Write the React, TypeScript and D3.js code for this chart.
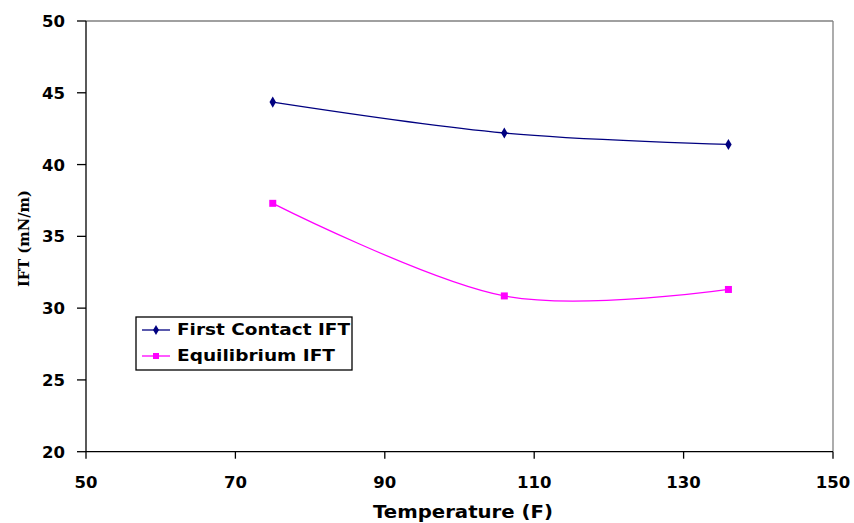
import React from "react";
import * as d3 from "d3";

const temperatures = [75, 106, 136];
const firstContact = [44.35, 42.2, 41.4];
const equilibrium = [37.3, 30.85, 31.3];
const xTicks = [50, 70, 90, 110, 130, 150];
const yTicks = [20, 25, 30, 35, 40, 45, 50];
const seriesNames = ["First Contact IFT", "Equilibrium IFT"];

const W = 854;
const H = 523;
const left = 86, right = 833, top = 21, bottom = 451.7;

export default function App() {
  const x = d3.scaleLinear().domain([50, 150]).range([left, right]);
  const y = d3.scaleLinear().domain([20, 50]).range([bottom, top]);
  const line = d3
    .line<number>()
    .x((_, i) => x(temperatures[i]))
    .y((d) => y(d))
    .curve(d3.curveCatmullRom.alpha(0));
  const font = "DejaVu Sans, Verdana, sans-serif";
  return (
    <svg width={W} height={H} style={{ position: "absolute", left: 0, top: 0 }}>
      <rect width={W} height={H} fill="#fff" />
      {/* plot border */}
      <line x1={left} x2={right} y1={top} y2={top} stroke="#808080" strokeWidth={1.3} />
      <line x1={right} x2={right} y1={top} y2={bottom} stroke="#808080" strokeWidth={1.3} />
      <line x1={left} x2={left} y1={top} y2={bottom} stroke="#000" strokeWidth={1.3} />
      <line x1={left} x2={right} y1={bottom} y2={bottom} stroke="#000" strokeWidth={1.3} />
      {yTicks.map((t) => (
        <g key={"y" + t}>
          <line x1={left - 9} x2={left} y1={y(t)} y2={y(t)} stroke="#000" strokeWidth={1.3} />
          <text x={65} y={y(t)} dy="0.36em" textAnchor="end" fontFamily={font} fontWeight="bold" fontSize={16.5}>
            {t}
          </text>
        </g>
      ))}
      {xTicks.map((t) => (
        <g key={"x" + t}>
          <line x1={x(t)} x2={x(t)} y1={bottom} y2={bottom + 7} stroke="#000" strokeWidth={1.3} />
          <text x={x(t)} y={488} textAnchor="middle" fontFamily={font} fontWeight="bold" fontSize={16.5}>
            {t}
          </text>
        </g>
      ))}
      <text
        x={373}
        y={518}
        fontFamily={font}
        fontWeight="bold"
        fontSize={17}
        textLength={180}
        lengthAdjust="spacingAndGlyphs"
      >
        Temperature (F)
      </text>
      <text
        transform={`translate(29,238.5) rotate(-90)`}
        textAnchor="middle"
        fontFamily="DejaVu Serif, serif"
        fontWeight="bold"
        fontSize={14}
        textLength={97}
        lengthAdjust="spacingAndGlyphs"
      >
        IFT (mN/m)
      </text>
      {/* series */}
      <path d={line(firstContact) || ""} fill="none" stroke="#000080" strokeWidth={1.3} />
      <path d={line(equilibrium) || ""} fill="none" stroke="#FF00FF" strokeWidth={1.3} />
      {firstContact.map((v, i) => (
        <path
          key={"fc" + i}
          d={d3.symbol(d3.symbolDiamond, 36)() || ""}
          transform={`translate(${x(temperatures[i])},${y(v)})`}
          fill="#000080"
        />
      ))}
      {equilibrium.map((v, i) => (
        <rect
          key={"eq" + i}
          x={x(temperatures[i]) - 3.5}
          y={y(v) - 3.5}
          width={7}
          height={7}
          fill="#FF00FF"
        />
      ))}
      {/* legend */}
      <rect x={136} y={317} width={216} height={53} fill="#fff" stroke="#000" strokeWidth={1.3} />
      <line x1={142} x2={170} y1={330} y2={330} stroke="#000080" strokeWidth={1.3} />
      <path d={d3.symbol(d3.symbolDiamond, 30)() || ""} transform="translate(156,330)" fill="#000080" />
      <text
        x={177}
        y={335}
        fontFamily={font}
        fontWeight="bold"
        fontSize={16.5}
        textLength={173}
        lengthAdjust="spacingAndGlyphs"
      >
        {seriesNames[0]}
      </text>
      <line x1={142} x2={170} y1={356} y2={356} stroke="#FF00FF" strokeWidth={1.3} />
      <rect x={153} y={353} width={6} height={6} fill="#FF00FF" />
      <text
        x={177}
        y={361}
        fontFamily={font}
        fontWeight="bold"
        fontSize={16.5}
        textLength={158}
        lengthAdjust="spacingAndGlyphs"
      >
        {seriesNames[1]}
      </text>
    </svg>
  );
}
